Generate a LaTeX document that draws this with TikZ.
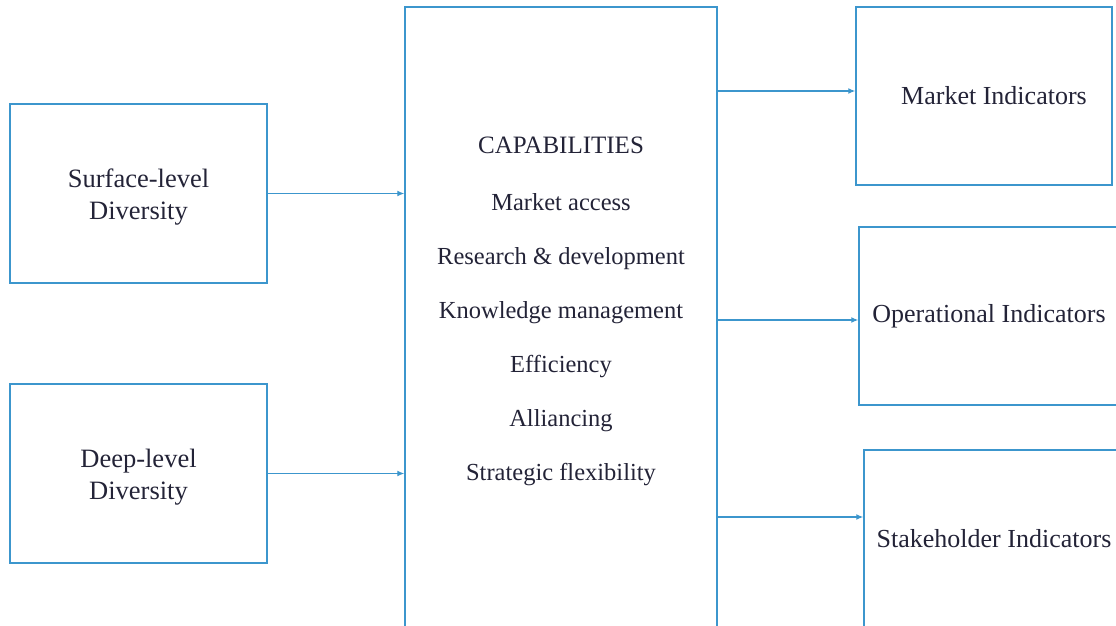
\documentclass[tikz,border=0pt]{standalone}
\usepackage{fontspec}
\setmainfont{Liberation Serif}
\usepackage{xcolor}
\usepackage{tikz}
\usetikzlibrary{positioning, arrows.meta}

\definecolor{lineblue}{RGB}{60,150,205}
\definecolor{inkblue}{RGB}{35,35,55}

\begin{document}
\begin{tikzpicture}[x=1pt, y=1pt, >={Latex[length=7pt,width=6pt]}, text=inkblue,
      driver/.style={draw=lineblue, line width=1.4pt, minimum width=257pt, minimum height=179pt, align=center, font=\fontsize{26.5}{32}\selectfont},
      capbox/.style={draw=lineblue, line width=1.4pt, minimum width=312pt, minimum height=633pt},
      outcome/.style={draw=lineblue, line width=1.4pt, minimum height=178pt, align=center, font=\fontsize{26}{31}\selectfont},
      link/.style={->, draw=lineblue, line width=1.3pt}]

    \useasboundingbox (0,0) rectangle (1116,625);
    \clip (0,0) rectangle (1116,625);

    \node[driver] (surface) at (138.5,431.5) {\rule{0pt}{26pt}Surface-level\\Diversity};
    \node[driver] (deep) at (138.5,151.5) {\rule{0pt}{26pt}Deep-level\\Diversity};

    \node[capbox] (cap) at (561,301.5) {};
    \node[below=130pt of cap.north, inner sep=0pt, align=center, font=\fontsize{24.5}{54}\selectfont] (caplist)
      {{\fontsize{25}{25}\selectfont CAPABILITIES}\\[3pt]
       Market access\\ Research \& development\\ Knowledge management\\
       Efficiency\\ Alliancing\\ Strategic flexibility};

    \node[outcome, minimum width=256pt] (market) at (984,529) {\hspace*{20pt}Market Indicators};
    \node[outcome, minimum width=260pt] (operational) at (989,309) {Operational Indicators};
    \node[outcome, minimum width=260pt] (stakeholder) at (994,86) {Stakeholder Indicators};

    \draw[link] (surface) -- (cap.west |- surface);
    \draw[link] (deep) -- (cap.west |- deep);
    \draw[link] ([yshift=5pt]cap.east |- market.west) -- ([yshift=5pt]market.west);
    \draw[link] ([yshift=-4pt]cap.east |- operational.west) -- ([yshift=-4pt]operational.west);
    \draw[link] ([yshift=22pt]cap.east |- stakeholder.west) -- ([yshift=22pt]stakeholder.west);
  \end{tikzpicture}
\end{document}
